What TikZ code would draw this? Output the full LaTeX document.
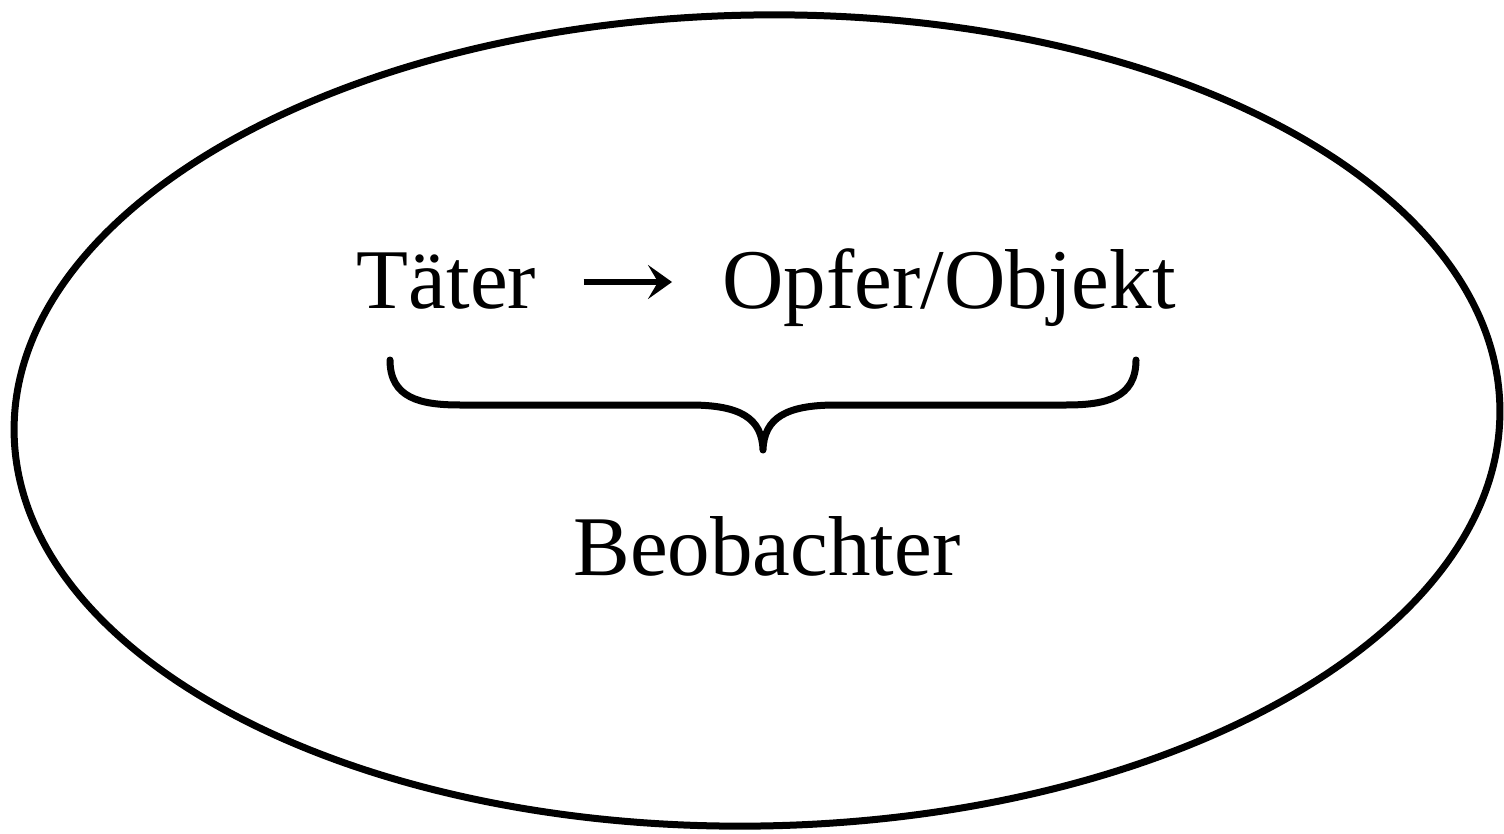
\documentclass[tikz,border=0pt]{standalone}
\usepackage{fontspec}
\setmainfont{Liberation Serif}
\usetikzlibrary{arrows.meta}
\begin{document}
\begin{tikzpicture}[x=0.5pt,y=-0.5pt,
  lbl/.style={inner sep=0pt, anchor=base, font=\fontsize{42.5pt}{50pt}\selectfont},
  arr/.style={line width=3pt, -{Stealth[length=12pt,width=17pt,inset=5pt]}},
  outline/.style={line width=3.5pt},
  bracestyle/.style={line width=3.5pt, line cap=round, line join=round}]
\useasboundingbox (0,0) rectangle (1504,834);
\draw[outline, rotate around={1:(757,420.5)}] (757,420.5) ellipse [x radius=743, y radius=405.5];
\node[lbl] (taeter) at (446.5,308) {Täter};
\node[lbl] (opfer) at (949,308) {Opfer/Objekt};
\node[lbl] (beob) at (767,575) {Beobachter};
\draw[arr] ([xshift=23.5pt,yshift=13pt]taeter.base east) -- ([xshift=-25pt,yshift=13pt]opfer.base west);
\draw[bracestyle] (390,360) .. controls (390,398) and (420,405) .. (460,405) -- (690,405)
  .. controls (740,405) and (762,418) .. (763,450)
  .. controls (764,418) and (786,405) .. (836,405) -- (1066,405)
  .. controls (1106,405) and (1136,398) .. (1136,360);
\end{tikzpicture}
\end{document}
